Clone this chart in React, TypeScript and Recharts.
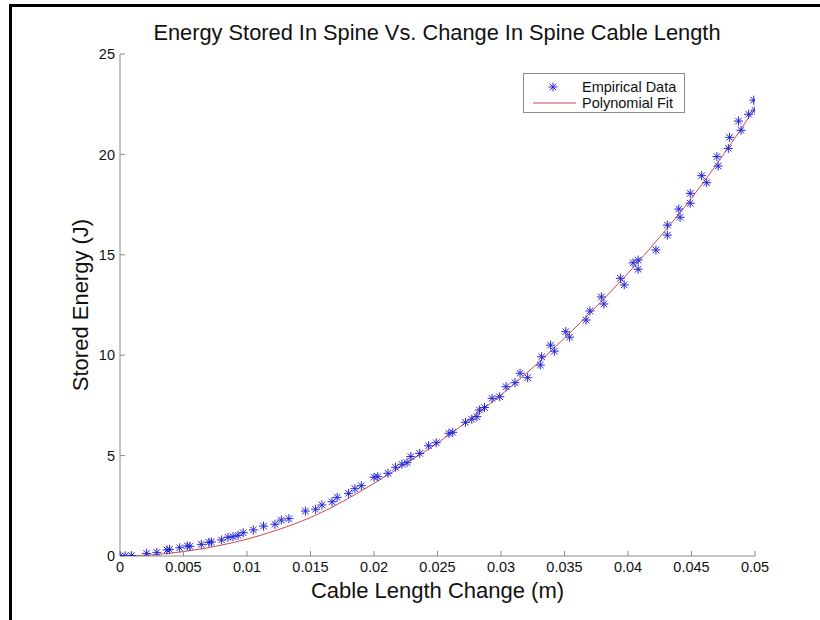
import React from 'react';
import { ComposedChart, XAxis, YAxis, Line, Scatter, Legend } from 'recharts';

const empiricalX = [
  0, 0.0004, 0.0009, 0.0021, 0.0029, 0.0037, 0.0039, 0.0047, 0.0053, 0.0055,
  0.0064, 0.007, 0.0072, 0.008, 0.0085, 0.0089, 0.0093, 0.0097, 0.0105, 0.0113,
  0.0122, 0.0127, 0.0133, 0.0146, 0.0154, 0.0159, 0.0167, 0.0171, 0.018, 0.0185,
  0.019, 0.02, 0.0203, 0.0211, 0.0217, 0.0222, 0.0226, 0.0229, 0.0236, 0.0243,
  0.0249, 0.0259, 0.0262, 0.0272, 0.0277, 0.0281, 0.0283, 0.0287, 0.0293, 0.0299,
  0.0304, 0.0311, 0.0315, 0.0321, 0.0331, 0.0332, 0.0339, 0.0342, 0.0351, 0.0354,
  0.0367, 0.037, 0.0379, 0.0381, 0.0394, 0.0397, 0.0404, 0.0408, 0.0408, 0.0422,
  0.0431, 0.0431, 0.044, 0.0441, 0.0449, 0.0449, 0.0458, 0.0462, 0.047, 0.0471,
  0.0479, 0.048, 0.0487, 0.0489, 0.0495, 0.0499, 0.05,
];
const empiricalY = [
  0, 0.01, 0.02, 0.13, 0.18, 0.3, 0.33, 0.41, 0.5, 0.48,
  0.58, 0.68, 0.7, 0.8, 0.93, 0.96, 1.03, 1.16, 1.3, 1.49,
  1.58, 1.79, 1.86, 2.24, 2.33, 2.54, 2.7, 2.92, 3.12, 3.35,
  3.5, 3.92, 3.95, 4.12, 4.42, 4.57, 4.65, 4.95, 5.11, 5.49,
  5.64, 6.11, 6.16, 6.66, 6.81, 6.94, 7.27, 7.39, 7.85, 7.93,
  8.43, 8.63, 9.1, 8.88, 9.51, 9.92, 10.5, 10.2, 11.17, 10.9,
  11.75, 12.2, 12.9, 12.55, 13.83, 13.5, 14.6, 14.74, 14.28, 15.24,
  16.48, 15.98, 17.28, 16.87, 18.06, 17.57, 18.94, 18.59, 19.89, 19.42,
  20.3, 20.85, 21.66, 21.2, 22.0, 22.7, 22.2,
];

const fitX = [
  0, 0.0025, 0.005, 0.0075, 0.01, 0.0125, 0.015, 0.0175, 0.02, 0.0225, 0.025,
  0.0275, 0.03, 0.0325, 0.035, 0.0375, 0.04, 0.0425, 0.045, 0.0475, 0.05,
];
const fitY = [
  0, 0.06, 0.22, 0.48, 0.84, 1.32, 1.92, 2.7, 3.62, 4.6, 5.62,
  6.78, 8.02, 9.38, 10.85, 12.42, 14.08, 15.88, 17.82, 19.98, 22.3,
];

const xTicks = [0, 0.005, 0.01, 0.015, 0.02, 0.025, 0.03, 0.035, 0.04, 0.045, 0.05];
const yTicks = [0, 5, 10, 15, 20, 25];

const empirical = empiricalX.map((x, i) => ({ x, v: empiricalY[i] }));
const fit = fitX.map((x, i) => ({ x, v: fitY[i] }));

const BLUE = '#2323d6';
const RED = '#d04a4a';
const AXIS = '#8a8a8a';
const FONT = '"Liberation Sans", Arial, Helvetica, sans-serif';

const Star = ({ cx, cy }: any) => {
  if (cx == null || cy == null) return null;
  const r = 4.5;
  const d = r * 0.72;
  return (
    <g stroke={BLUE} strokeWidth={1}>
      <line x1={cx - r} y1={cy} x2={cx + r} y2={cy} />
      <line x1={cx} y1={cy - r} x2={cx} y2={cy + r} />
      <line x1={cx - d} y1={cy - d} x2={cx + d} y2={cy + d} />
      <line x1={cx - d} y1={cy + d} x2={cx + d} y2={cy - d} />
    </g>
  );
};

const LegendBox = () => (
  <div style={{ width: 162, height: 40, border: '1px solid #8a8a8a', background: '#fff', boxSizing: 'border-box' }}>
    <svg width={160} height={38} style={{ display: 'block' }}>
      <Star cx={29} cy={13} />
      <text x={58} y={13} dy="0.35em" fontSize={14.5} fontFamily={FONT} fill="#111">Empirical Data</text>
      <line x1={9} x2={52} y1={29} y2={29} stroke={RED} strokeWidth={1} />
      <text x={58} y={29} dy="0.35em" fontSize={14.5} fontFamily={FONT} fill="#111">Polynomial Fit</text>
    </svg>
  </div>
);

export default function App() {
  return (
    <div style={{ position: 'fixed', left: 0, top: 0, width: 820, height: 620, background: '#fff', overflow: 'hidden' }}>
      <div style={{ position: 'absolute', left: 9, top: 4, width: 820, height: 620, borderTop: '3px solid #000', borderLeft: '3px solid #000', boxSizing: 'border-box' }} />
      <div style={{ position: 'absolute', left: 0, width: 874, top: 20, textAlign: 'center', fontFamily: FONT, fontSize: 21.8, color: '#111', lineHeight: '26px' }}>
        Energy Stored In Spine Vs. Change In Spine Cable Length
      </div>
      <div style={{ position: 'absolute', left: 0, top: 0 }}>
        <ComposedChart width={820} height={620} margin={{ top: 54, right: 65, bottom: 0, left: 0 }}>
          <XAxis
            dataKey="x"
            type="number"
            domain={[0, 0.05]}
            ticks={xTicks}
            allowDataOverflow
            interval={0}
            height={64}
            stroke={AXIS}
            tickSize={-5}
            tickMargin={11}
            tickFormatter={(v: number) => String(v)}
            tick={{ fill: '#111', fontSize: 14.5, fontFamily: FONT }}
            label={(p: any) => {
              const vb = p.viewBox || {};
              return (
                <text x={vb.x + vb.width / 2} y={598} textAnchor="middle" fontSize={22} fontFamily={FONT} fill="#111">
                  Cable Length Change (m)
                </text>
              );
            }}
          />
          <YAxis
            dataKey="v"
            type="number"
            domain={[0, 25]}
            ticks={yTicks}
            allowDataOverflow
            interval={0}
            width={120}
            stroke={AXIS}
            tickSize={-5}
            tickMargin={10}
            tick={{ fill: '#111', fontSize: 14.5, fontFamily: FONT }}
            label={(p: any) => {
              const vb = p.viewBox || {};
              const cy = vb.y + vb.height / 2;
              return (
                <text x={88} y={cy} transform={`rotate(-90, 88, ${cy})`} textAnchor="middle" fontSize={22} fontFamily={FONT} fill="#111">
                  Stored Energy (J)
                </text>
              );
            }}
          />
          <Line
            data={fit}
            dataKey="v"
            type="monotone"
            stroke={RED}
            strokeWidth={1}
            dot={false}
            activeDot={false}
            isAnimationActive={false}
            name="Polynomial Fit"
          />
          <Scatter
            data={empirical}
            dataKey="v"
            fill={BLUE}
            shape={(p: any) => <Star cx={p.cx} cy={p.cy} />}
            isAnimationActive={false}
            name="Empirical Data"
          />
          <Legend
            layout="vertical"
            align="center"
            verticalAlign="middle"
            content={() => <LegendBox />}
            wrapperStyle={{ left: 523, top: 73, width: 162, height: 40 }}
          />
        </ComposedChart>
      </div>
    </div>
  );
}
